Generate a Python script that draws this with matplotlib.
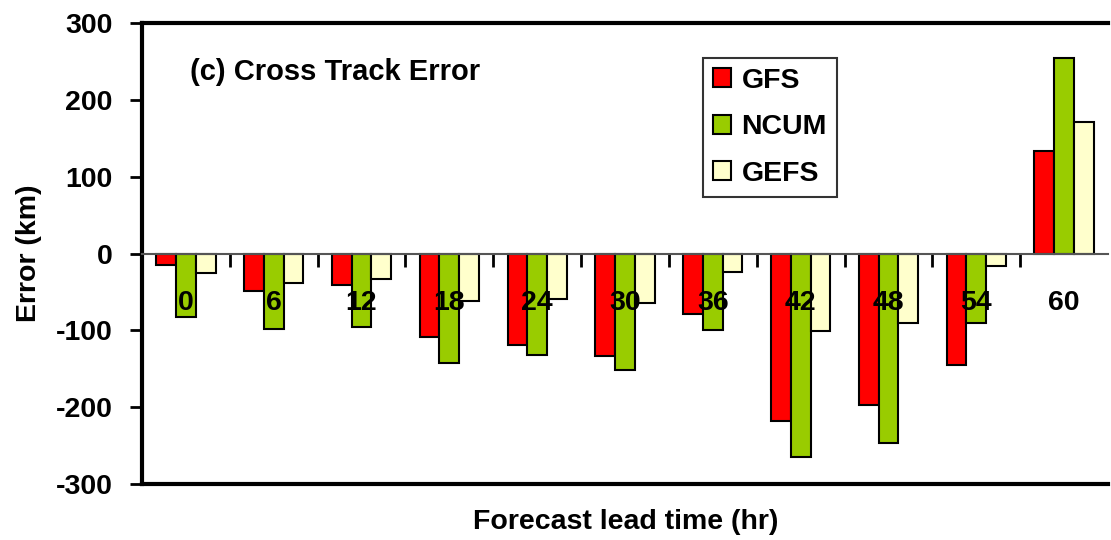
import matplotlib
matplotlib.use("Agg")
import matplotlib.pyplot as plt
import numpy as np

categories = ["0", "6", "12", "18", "24", "30", "36", "42", "48", "54", "60"]
gfs = [-15, -49, -41, -109, -119, -133, -79, -218, -197, -145, 133]
ncum = [-83, -98, -96, -143, -132, -151, -99, -265, -247, -91, 254]
gefs = [-25, -38, -33, -62, -59, -65, -24, -101, -91, -16, 171]
series_names = ["GFS", "NCUM", "GEFS"]
colors = ["#FF0000", "#99CC00", "#FFFFCC"]
yticks = [-300, -200, -100, 0, 100, 200, 300]

plt.rcParams['font.family'] = ['Liberation Sans', 'DejaVu Sans']
plt.rcParams['font.weight'] = 'bold'
FS = 20.5

fig = plt.figure(figsize=(11.11, 5.40), dpi=100)
ax = fig.add_axes([142/1111, 1-484/540, (1108-142)/1111, (484-23)/540])

x = np.arange(len(categories))
w = 0.225
for i, (vals, name, c) in enumerate(zip([gfs, ncum, gefs], series_names, colors)):
    ax.bar(x + (i-1)*w, vals, width=w, color=c, edgecolor='black', linewidth=1.5,
           label=name, zorder=1.5)

ax.set_xlim(-0.5, len(categories)-0.5)
ax.set_ylim(-300, 300)
ax.set_yticks(yticks)
ax.set_yticklabels([str(v) for v in yticks], fontsize=FS, fontweight='bold')
ax.tick_params(axis='y', direction='out', length=9, width=2, pad=12)

# category axis crossing at zero
ax.spines['bottom'].set_position(('data', 0))
ax.spines['bottom'].set_linewidth(1.5)
ax.spines['bottom'].set_color('#555555')
ax.spines['right'].set_visible(False)
ax.spines['left'].set_linewidth(3)
ax.spines['top'].set_linewidth(3)
ax.set_xticks(np.arange(len(categories)-1) + 0.5)
ax.set_xticklabels([])
ax.tick_params(axis='x', direction='out', length=9, width=2)
ax.set_xticks(x, minor=True)
ax.set_xticklabels(categories, minor=True, fontsize=FS, fontweight='bold')
ax.tick_params(axis='x', which='minor', length=0, pad=26)

ax.axhline(-300, color='black', linewidth=3, clip_on=False, zorder=4)

ax.set_ylabel("Error (km)", fontsize=FS, fontweight='bold')
ax.yaxis.set_label_coords((42-142)/966, 0.5)
fig.text(626/1111, 1-522/540, "Forecast lead time (hr)", fontsize=FS, fontweight='bold',
         ha='center', va='center')
ax.text(190/1111, 1-72/540, "(c) Cross Track Error", transform=fig.transFigure,
        fontsize=21, fontweight='bold', ha='left', va='center')

leg = ax.legend(loc='upper left', bbox_to_anchor=((703-142)/966, (484-58)/461),
                fontsize=FS, frameon=True, fancybox=False, edgecolor='black',
                handlelength=0.65, handleheight=0.65, handletextpad=0.35,
                labelspacing=0.72, borderpad=0.35, borderaxespad=0)
leg.get_frame().set_linewidth(1.5)
for t in leg.get_texts():
    t.set_fontweight('bold')

fig.savefig("out.png", dpi=100)
